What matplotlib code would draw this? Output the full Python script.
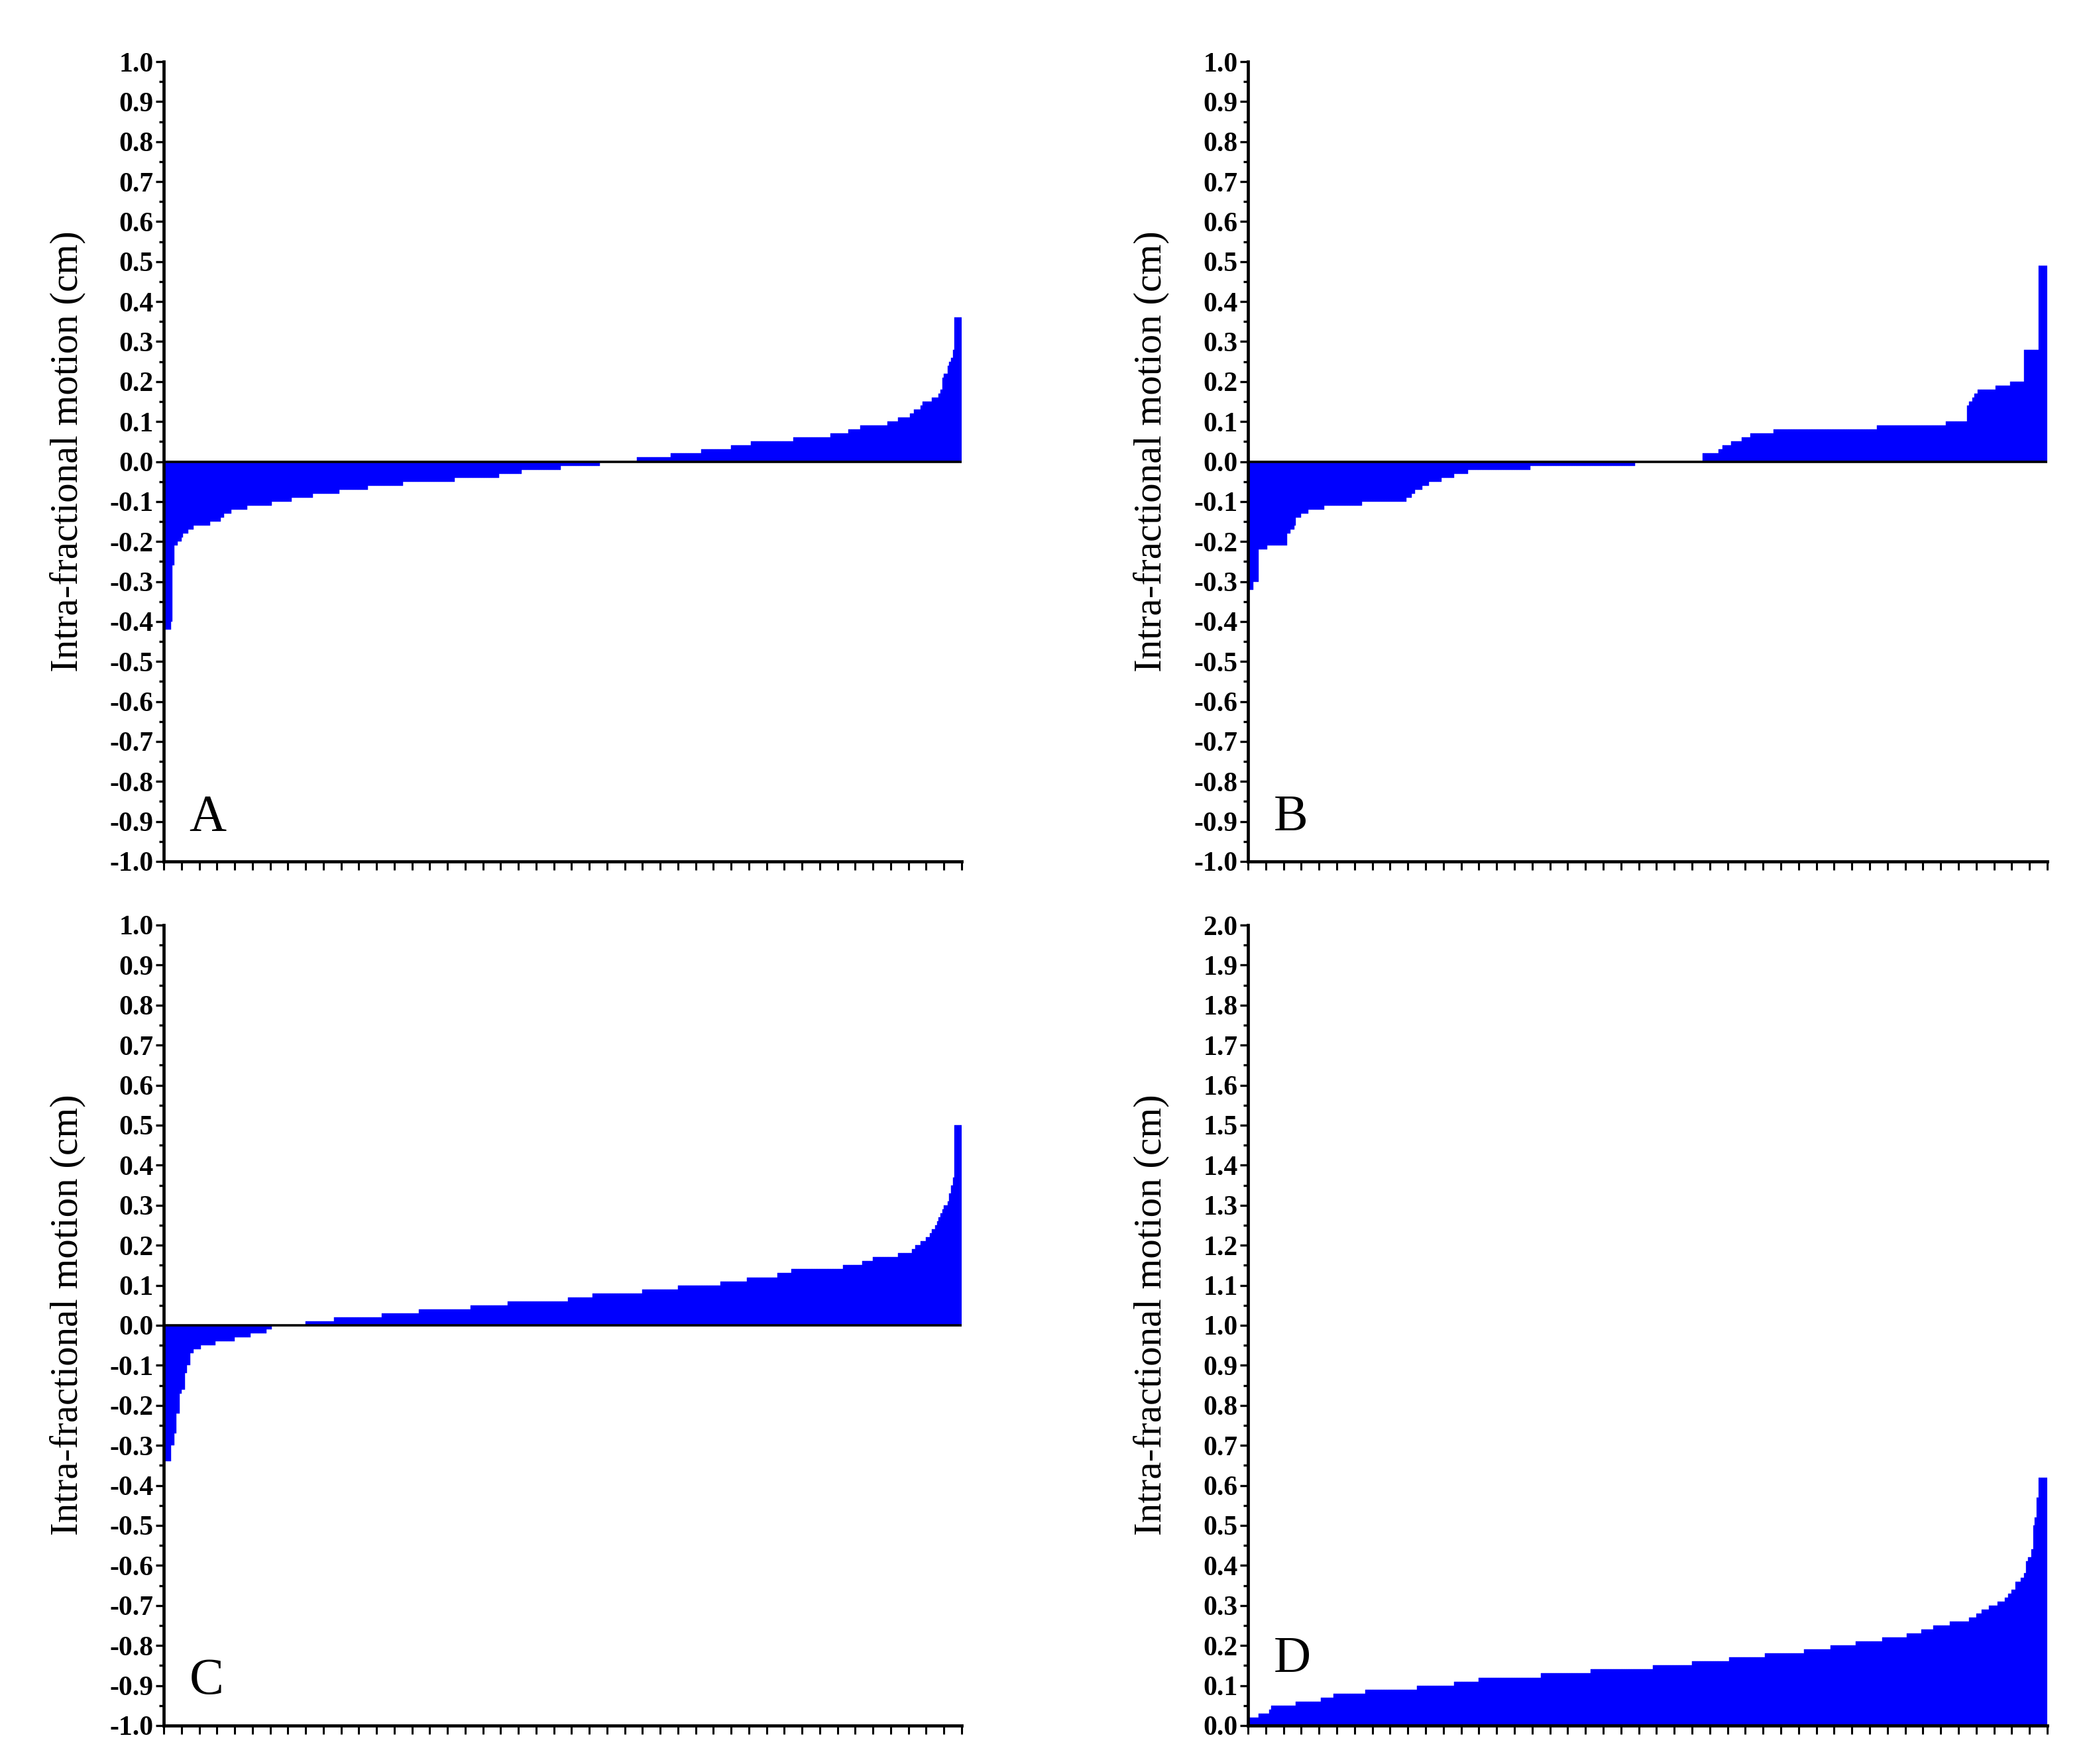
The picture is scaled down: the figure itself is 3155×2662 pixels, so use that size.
import numpy as np
import matplotlib
matplotlib.use("Agg")
import matplotlib.pyplot as plt
from matplotlib.ticker import MultipleLocator, FuncFormatter

# sorted intra-fractional motion per panel, stored as (value in cm, number of fractions)
a_values = [-0.42, -0.40, -0.26, -0.21, -0.20, -0.19, -0.18, -0.17, -0.16, -0.15, -0.14, -0.13,
            -0.12, -0.11, -0.10, -0.09, -0.08, -0.07, -0.06, -0.05, -0.04, -0.03, -0.02, -0.01,
            0.00, 0.01, 0.02, 0.03, 0.04, 0.05, 0.06, 0.07, 0.08, 0.09, 0.10, 0.11, 0.12, 0.13,
            0.14, 0.15, 0.16, 0.17, 0.18, 0.21, 0.22, 0.24, 0.25, 0.26, 0.28, 0.36]
a_counts = [4, 1, 1, 2, 2, 1, 3, 3, 9, 6, 2, 4,
            9, 14, 11, 12, 15, 16, 20, 29, 25, 13, 22, 22,
            21, 19, 17, 17, 11, 24, 21, 10, 7, 15, 6, 7, 2, 4,
            1, 5, 4, 1, 1, 1, 2, 1, 1, 1, 1, 4]

b_values = [-0.32, -0.30, -0.22, -0.21, -0.18, -0.17, -0.16, -0.14, -0.13, -0.12, -0.11, -0.10,
            -0.09, -0.08, -0.07, -0.06, -0.05, -0.04, -0.03, -0.02, -0.01, 0.00, 0.02, 0.03,
            0.04, 0.05, 0.06, 0.07, 0.08, 0.09, 0.10, 0.14, 0.15, 0.16, 0.17, 0.18, 0.19, 0.20,
            0.28, 0.49]
b_counts = [3, 3, 5, 11, 2, 2, 1, 3, 4, 9, 21, 25,
            3, 2, 4, 4, 7, 7, 8, 35, 59, 38, 9, 2,
            5, 6, 5, 13, 58, 39, 12, 1, 2, 1, 2, 10, 8, 8,
            8, 5]

c_values = [-0.34, -0.30, -0.27, -0.22, -0.17, -0.16, -0.12, -0.10, -0.07, -0.06, -0.05, -0.04,
            -0.03, -0.02, -0.01, 0.00, 0.01, 0.02, 0.03, 0.04, 0.05, 0.06, 0.07, 0.08, 0.09,
            0.10, 0.11, 0.12, 0.13, 0.14, 0.15, 0.16, 0.17, 0.18, 0.19, 0.20, 0.21, 0.22, 0.23,
            0.24, 0.25, 0.26, 0.27, 0.28, 0.29, 0.30, 0.31, 0.33, 0.35, 0.37, 0.50]
c_counts = [4, 2, 1, 2, 1, 2, 1, 2, 2, 4, 8, 11,
            9, 9, 3, 19, 16, 27, 21, 29, 21, 34, 14, 28, 20,
            24, 15, 17, 8, 29, 11, 6, 14, 8, 2, 3, 3, 2, 1,
            2, 1, 1, 1, 1, 1, 2, 1, 1, 1, 1, 4]

d_values = [0.02, 0.03, 0.04, 0.05, 0.06, 0.07, 0.08, 0.09, 0.10, 0.11, 0.12, 0.13, 0.14,
            0.15, 0.16, 0.17, 0.18, 0.19, 0.20, 0.21, 0.22, 0.23, 0.24, 0.25, 0.26, 0.27,
            0.28, 0.29, 0.30, 0.31, 0.32, 0.33, 0.34, 0.36, 0.37, 0.38, 0.41, 0.42, 0.44,
            0.50, 0.52, 0.57, 0.62]
d_counts = [6, 6, 1, 14, 14, 7, 18, 29, 21, 14, 35, 28, 35,
            22, 21, 20, 22, 15, 14, 15, 14, 8, 7, 9, 11, 4,
            3, 4, 5, 4, 2, 2, 2, 3, 2, 1, 1, 2, 1,
            1, 1, 1, 5]

panel_letters = ["A", "B", "C", "D"]
y_limits = [(-1.0, 1.0), (-1.0, 1.0), (-1.0, 1.0), (0.0, 2.0)]
letter_y = [0.039, 0.039, 0.040, 0.067]

W, H = 3155, 2662
fig = plt.figure(figsize=(W / 100, H / 100), dpi=100)
fig.patch.set_facecolor("white")

# axes boxes in pixels: left, right, top, bottom
boxes = [(247, 1451, 93, 1300), (1883, 3089, 93, 1300),
         (247, 1451, 1396, 2604), (1883, 3089, 1396, 2604)]

serif = ["Liberation Serif", "DejaVu Serif"]
data = [(a_values, a_counts), (b_values, b_counts), (c_values, c_counts), (d_values, d_counts)]

for i, (vals, counts) in enumerate(data):
    l, r, t, b = boxes[i]
    ax = fig.add_axes([l / W, 1 - b / H, (r - l) / W, (b - t) / H])
    motion = np.repeat(vals, counts)
    x = np.arange(len(motion))
    ax.bar(x, motion, width=1.0, align="edge", color="#0000ff",
           edgecolor="#0000ff", linewidth=0.3)
    ax.axhline(0, color="black", lw=2.6, zorder=3)

    ax.set_xlim(0, len(motion))
    ax.set_ylim(*y_limits[i])
    ax.set_xticks(np.arange(0, len(motion) + 1, 10))
    ax.set_xticklabels([])
    ax.yaxis.set_major_locator(MultipleLocator(0.1))
    ax.yaxis.set_minor_locator(MultipleLocator(0.05))
    ax.yaxis.set_major_formatter(FuncFormatter(lambda v, p: f"{round(v, 1) + 0.0:.1f}"))

    for s in ["top", "right"]:
        ax.spines[s].set_visible(False)
    for s in ["left", "bottom"]:
        ax.spines[s].set_linewidth(3.4)

    ax.tick_params(axis="y", which="major", length=9, width=2.4, pad=2, direction="out")
    ax.tick_params(axis="y", which="minor", length=5, width=2.4, direction="out")
    ax.tick_params(axis="x", which="major", length=9, width=2.2, direction="out")
    for lab in ax.get_yticklabels():
        lab.set_fontfamily(serif)
        lab.set_fontweight("bold")
        lab.set_fontsize(30)

    ax.set_ylabel("Intra-fractional motion (cm)", family=serif, fontsize=42.5)
    ax.yaxis.set_label_coords(-0.098, 0.513)

    ax.text(0.032, letter_y[i], panel_letters[i], transform=ax.transAxes,
            family=serif, fontsize=56, ha="left", va="baseline")

fig.savefig("out.png", dpi=100, facecolor="white")
